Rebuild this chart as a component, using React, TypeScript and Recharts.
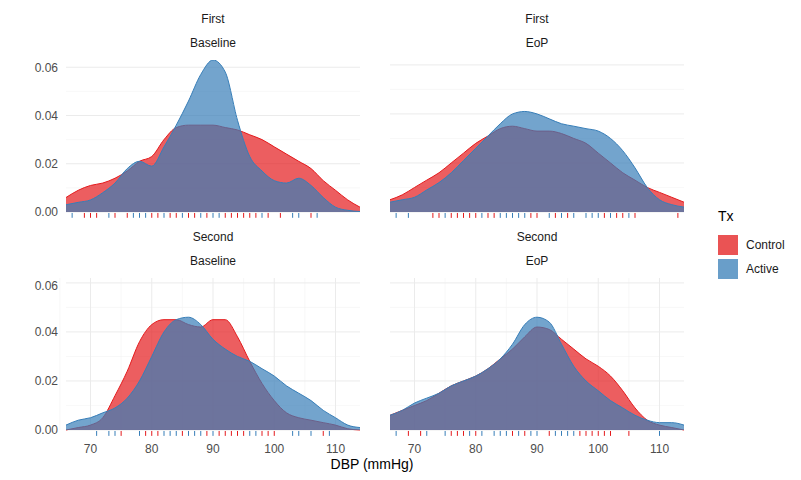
import React from 'react';
import { AreaChart, Area, XAxis, YAxis, CartesianGrid, ReferenceLine } from 'recharts';

const xs = [66, 68, 70, 72, 74, 76, 78, 80, 82, 84, 86, 88, 90, 92, 94, 96, 98, 100, 102, 104, 106, 108, 110, 112, 114];

// density values per facet
const firstBaseControl = [0.006, 0.009, 0.011, 0.012, 0.014, 0.017, 0.021, 0.023, 0.030, 0.035, 0.036, 0.036, 0.036, 0.035, 0.034, 0.032, 0.030, 0.027, 0.024, 0.021, 0.018, 0.013, 0.009, 0.005, 0.002];
const firstBaseActive = [0.003, 0.004, 0.005, 0.008, 0.012, 0.018, 0.021, 0.019, 0.027, 0.036, 0.046, 0.057, 0.063, 0.058, 0.038, 0.023, 0.017, 0.013, 0.012, 0.014, 0.011, 0.006, 0.002, 0.0007, 0.0002];
const firstEopControl = [0.005, 0.007, 0.010, 0.013, 0.016, 0.020, 0.024, 0.028, 0.031, 0.034, 0.035, 0.034, 0.033, 0.033, 0.032, 0.030, 0.028, 0.024, 0.020, 0.016, 0.013, 0.010, 0.008, 0.006, 0.004];
const firstEopActive = [0.004, 0.005, 0.006, 0.009, 0.012, 0.016, 0.021, 0.026, 0.031, 0.036, 0.040, 0.041, 0.040, 0.038, 0.036, 0.035, 0.034, 0.033, 0.030, 0.025, 0.018, 0.010, 0.005, 0.003, 0.002];
const secondBaseControl = [0.0, 0.001, 0.002, 0.005, 0.014, 0.024, 0.036, 0.043, 0.045, 0.045, 0.043, 0.042, 0.045, 0.045, 0.038, 0.028, 0.019, 0.012, 0.007, 0.005, 0.004, 0.003, 0.002, 0.0005, 0.0];
const secondBaseActive = [0.002, 0.004, 0.005, 0.007, 0.009, 0.013, 0.020, 0.030, 0.040, 0.045, 0.046, 0.043, 0.037, 0.033, 0.030, 0.028, 0.025, 0.022, 0.018, 0.015, 0.012, 0.008, 0.005, 0.002, 0.001];
const secondEopControl = [0.006, 0.008, 0.010, 0.012, 0.015, 0.018, 0.020, 0.022, 0.025, 0.029, 0.033, 0.038, 0.042, 0.041, 0.037, 0.033, 0.029, 0.026, 0.022, 0.016, 0.009, 0.004, 0.002, 0.001, 0.0];
const secondEopActive = [0.006, 0.008, 0.011, 0.013, 0.015, 0.018, 0.020, 0.022, 0.025, 0.029, 0.035, 0.043, 0.046, 0.044, 0.035, 0.026, 0.020, 0.016, 0.012, 0.009, 0.006, 0.004, 0.003, 0.003, 0.002];

// rug values
const firstBaseRugControl = [69, 70, 71, 74, 76, 80, 81, 83, 84, 86, 87, 89, 92, 93, 94, 95, 96, 97, 99, 101, 106];
const firstBaseRugActive = [67, 73, 77, 78, 79, 82, 85, 88, 90, 91, 98, 103, 104, 107];
const firstEopRugControl = [73, 74, 76, 77, 78, 79, 80, 82, 83, 89, 90, 93, 95, 101, 103, 104, 106, 113];
const firstEopRugActive = [67, 69, 75, 81, 84, 85, 86, 87, 88, 92, 94, 96, 98, 99, 100, 102, 105];
const secondBaseRugControl = [75, 79, 80, 81, 85, 89, 91, 92, 93, 94, 95, 98, 99, 100, 108];
const secondBaseRugActive = [71, 73, 74, 78, 82, 83, 84, 86, 87, 88, 90, 96, 97, 103, 104, 106, 109];
const secondEopRugControl = [69, 71, 76, 77, 78, 80, 86, 88, 92, 97, 98, 99, 100, 101, 102, 105];
const secondEopRugActive = [67, 72, 75, 79, 81, 83, 84, 85, 87, 89, 90, 93, 94, 95, 96, 110];

const RED = '#E41A1C';
const BLUE = '#377EB8';
const xTicks = [70, 80, 90, 100, 110];
const xMinor = [65, 75, 85, 95, 105, 115];
const yTicks = [0, 0.02, 0.04, 0.06];
const yMinor = [0.01, 0.03, 0.05];

const build = (c: number[], a: number[]) => xs.map((x, i) => ({ x, control: c[i], active: a[i] }));

type PanelProps = {
  left: number; top: number; showY: boolean; showX: boolean;
  control: number[]; active: number[]; rugC: number[]; rugA: number[];
};

const Panel = ({ left, top, showY, showX, control, active, rugC, rugA }: PanelProps) => {
  const yw = showY ? 40 : 0;
  const plotW = 294;
  const plotH = 152;
  const xh = showX ? 28 : 10;
  const rug = (v: number, color: string, k: string) => (
    <ReferenceLine key={k} ifOverflow="visible" stroke={color} strokeWidth={1}
      segment={[{ x: v, y: -0.0004 }, { x: v, y: -0.0024 }]} />
  );
  return (
    <div style={{ position: 'absolute', left: left - yw, top }}>
      <AreaChart width={yw + plotW} height={plotH + xh} data={build(control, active)}
        margin={{ top: 0, right: 0, bottom: 0, left: 0 }}>
        <CartesianGrid stroke="#f3f3f3" strokeWidth={0.6} verticalValues={xMinor} horizontalValues={yMinor} />
        <CartesianGrid stroke="#ebebeb" verticalValues={xTicks} horizontalValues={yTicks} />
        <XAxis dataKey="x" type="number" domain={[66, 114]} ticks={xTicks} height={xh}
          axisLine={false} tickLine={false} tick={showX ? { fill: '#4d4d4d', fontSize: 12, dy: 6 } : false} />
        <YAxis domain={[0, 0.062]} ticks={yTicks} width={yw} hide={!showY} axisLine={false} tickLine={false}
          tickFormatter={(v: number) => v.toFixed(2)} tick={{ fill: '#4d4d4d', fontSize: 12 }} />
        <Area type="monotone" dataKey="control" stroke={RED} fill={RED} fillOpacity={0.7} strokeWidth={1} isAnimationActive={false} />
        <Area type="monotone" dataKey="active" stroke={BLUE} fill={BLUE} fillOpacity={0.7} strokeWidth={1} isAnimationActive={false} />
        {rugC.map((v, i) => rug(v, RED, 'c' + i))}
        {rugA.map((v, i) => rug(v, BLUE, 'a' + i))}
      </AreaChart>
    </div>
  );
};

const label = (text: string, x: number, y: number, size = 12, color = '#1a1a1a') => (
  <div style={{ position: 'absolute', left: x - 100, top: y - size * 0.7, width: 200, textAlign: 'center', fontSize: size, color }}>{text}</div>
);

export default function App() {
  return (
    <div style={{ position: 'absolute', left: 0, top: 0, width: 801, height: 480, background: '#fff', fontFamily: 'Arial, "Liberation Sans", sans-serif' }}>
      {label('First', 213, 20)}
      {label('Baseline', 213, 44)}
      {label('First', 537, 20)}
      {label('EoP', 537, 44)}
      {label('Second', 213, 238)}
      {label('Baseline', 213, 262)}
      {label('Second', 537, 238)}
      {label('EoP', 537, 262)}
      <Panel left={66} top={60} showY showX={false} control={firstBaseControl} active={firstBaseActive} rugC={firstBaseRugControl} rugA={firstBaseRugActive} />
      <Panel left={390} top={60} showY={false} showX={false} control={firstEopControl} active={firstEopActive} rugC={firstEopRugControl} rugA={firstEopRugActive} />
      <Panel left={66} top={278} showY showX control={secondBaseControl} active={secondBaseActive} rugC={secondBaseRugControl} rugA={secondBaseRugActive} />
      <Panel left={390} top={278} showY={false} showX control={secondEopControl} active={secondEopActive} rugC={secondEopRugControl} rugA={secondEopRugActive} />
      {label('DBP (mmHg)', 372, 466, 14, '#000')}
      <div style={{ position: 'absolute', left: 718, top: 208, fontSize: 14, color: '#000' }}>Tx</div>
      {[['Control', RED], ['Active', BLUE]].map(([name, c], i) => (
        <div key={name} style={{ position: 'absolute', left: 718, top: 235 + i * 24, display: 'flex', alignItems: 'center' }}>
          <div style={{ width: 18, height: 18, background: c, opacity: 0.75, border: `1px solid ${c}` }} />
          <span style={{ marginLeft: 8, fontSize: 12, color: '#1a1a1a' }}>{name}</span>
        </div>
      ))}
    </div>
  );
}
